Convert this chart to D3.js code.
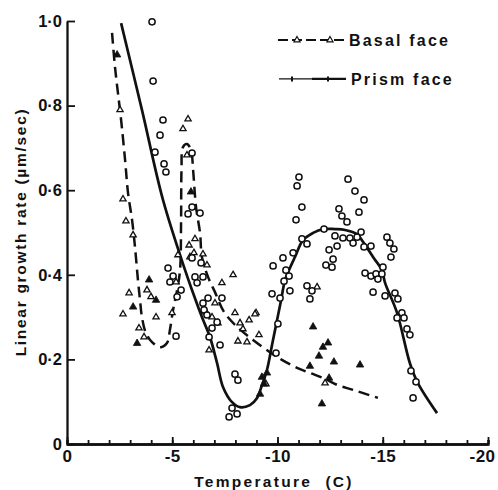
<!DOCTYPE html>
<html>
<head>
<meta charset="utf-8">
<script src="https://cdn.jsdelivr.net/npm/d3@7"></script>
<style>
  html, body { margin: 0; padding: 0; background: #fff; }
  svg { display: block; }
  text { font-family: "Liberation Sans", Arial, sans-serif; font-weight: bold; fill: #111; }
</style>
</head>
<body>
<script>
// ---------- data (temperature °C, growth rate µm/sec) ----------
const xTicks = [0, -5, -10, -15, -20];
const yTicks = [0, 0.2, 0.4, 0.6, 0.8, 1.0];
const seriesNames = ["Basal face", "Prism face"];
const xTitle = "Temperature  (C)";
const yTitle = "Linear growth rate (µm/sec)";

// prism face fitted curve
const prismCurve = [
  [-2.57,0.995],[-3.56,0.79],[-4.56,0.577],[-5.61,0.411],[-5.99,0.357],[-6.41,0.300],
  [-6.79,0.253],[-7.13,0.191],[-7.41,0.135],[-7.84,0.099],[-8.22,0.087],[-8.69,0.092],
  [-9.03,0.109],[-9.26,0.139],[-9.50,0.175],[-9.74,0.234],[-9.98,0.293],[-10.17,0.340],
  [-10.36,0.388],[-10.59,0.416],[-10.83,0.442],[-11.21,0.482],[-11.69,0.499],[-12.16,0.508],
  [-12.73,0.508],[-13.21,0.506],[-13.78,0.496],[-14.06,0.478],[-14.54,0.442],[-14.96,0.411],
  [-15.11,0.381],[-15.68,0.310],[-16.29,0.191],[-16.67,0.144],[-17.58,0.073]
];

// basal face fitted curve
const basalCurve = [
  [-2.14,0.972],[-2.28,0.891],[-2.42,0.830],[-2.57,0.766],[-2.76,0.671],[-2.90,0.593],
  [-3.09,0.530],[-3.23,0.466],[-3.37,0.388],[-3.47,0.340],[-3.56,0.300],[-3.75,0.262],
  [-4.04,0.241],[-4.42,0.229],[-4.75,0.239],[-4.89,0.270],[-5.04,0.317],[-5.23,0.364],
  [-5.37,0.411],[-5.42,0.530],[-5.44,0.648],[-5.51,0.702],[-5.70,0.709],[-5.89,0.695],
  [-5.99,0.648],[-6.13,0.560],[-6.32,0.499],[-6.41,0.442],[-6.70,0.395],[-7.03,0.359],
  [-7.46,0.312],[-8.08,0.277],[-8.84,0.246],[-9.64,0.217],[-10.21,0.199],[-10.93,0.180],
  [-11.54,0.168],[-12.26,0.154],[-12.87,0.139],[-13.59,0.128],[-14.77,0.109]
];

// prism face measurements (open circles)
const prismPoints = [
  [-4.04,0.998],[-4.09,0.858],[-4.56,0.766],[-4.42,0.730],[-4.18,0.690],[-4.61,0.662],
  [-4.70,0.643],[-5.94,0.688],[-5.94,0.560],[-5.75,0.544],[-6.32,0.546],[-6.37,0.428],
  [-5.94,0.440],[-4.80,0.416],[-5.04,0.397],[-4.89,0.383],[-5.42,0.364],[-5.23,0.348],
  [-5.18,0.255],[-6.08,0.395],[-6.46,0.395],[-6.18,0.381],[-6.46,0.333],[-6.70,0.345],
  [-7.36,0.345],[-6.51,0.317],[-6.65,0.305],[-7.13,0.288],[-6.89,0.274],[-6.75,0.253],
  [-7.27,0.234],[-7.98,0.165],[-8.12,0.151],[-7.84,0.085],[-8.08,0.071],[-7.70,0.064],
  [-9.74,0.355],[-10.12,0.345],[-10.02,0.284],[-9.93,0.215],
  [-11.02,0.631],[-10.93,0.610],[-11.16,0.560],[-10.88,0.530],[-13.35,0.626],[-13.68,0.598],
  [-14.11,0.577],[-13.87,0.548],[-12.92,0.556],[-13.06,0.539],[-13.30,0.525],[-12.21,0.508],
  [-11.16,0.485],[-11.40,0.473],[-12.73,0.492],[-13.11,0.487],[-13.44,0.487],[-13.78,0.489],
  [-13.97,0.501],[-13.59,0.475],[-12.83,0.468],[-12.45,0.459],[-14.11,0.466],[-14.44,0.468],
  [-10.74,0.452],[-10.26,0.440],[-9.79,0.421],[-12.64,0.437],[-12.30,0.423],[-12.59,0.418],
  [-10.40,0.411],[-10.55,0.397],[-10.31,0.385],[-10.59,0.362],[-11.40,0.374],[-11.64,0.362],
  [-11.54,0.343],[-15.20,0.489],[-15.34,0.475],[-15.53,0.461],[-15.39,0.442],[-15.01,0.418],
  [-14.16,0.404],[-14.44,0.397],[-14.68,0.402],[-14.96,0.402],[-14.77,0.390],[-14.54,0.359],
  [-15.11,0.350],[-15.58,0.357],[-15.72,0.343],[-15.91,0.310],[-15.68,0.298],[-16.01,0.298],
  [-16.15,0.272],[-16.29,0.258],[-16.34,0.173],[-16.58,0.147],[-16.44,0.109]
];

// basal face measurements (open triangles)
const basalOpen = [
  [-2.52,0.790],[-2.66,0.579],[-2.80,0.527],[-3.14,0.494],[-2.95,0.357],[-2.66,0.307],
  [-3.42,0.274],[-3.66,0.253],[-3.80,0.364],[-3.99,0.348],[-4.23,0.300],[-4.99,0.310],
  [-5.18,0.383],[-5.27,0.447],[-5.84,0.442],[-6.46,0.449],[-5.75,0.768],[-5.51,0.745],
  [-5.70,0.683],[-5.80,0.470],[-6.08,0.485],[-6.03,0.452],[-6.65,0.423],[-7.36,0.381],
  [-7.89,0.400],[-7.03,0.333],[-6.60,0.312],[-6.89,0.300],[-7.17,0.286],[-7.98,0.310],
  [-8.98,0.310],[-8.65,0.293],[-8.22,0.286],[-8.36,0.272],[-8.12,0.243],[-8.55,0.241],
  [-9.12,0.258],[-6.75,0.222],[-11.88,0.371],[-12.26,0.144],[-9.45,0.142],[-8.93,0.307]
];

// basal face measurements (filled triangles)
const basalFilled = [
  [-2.38,0.920],[-3.14,0.324],[-3.90,0.388],[-4.23,0.340],[-3.33,0.238],[-5.89,0.596],
  [-11.69,0.277],[-12.40,0.239],[-12.16,0.229],[-11.97,0.208],[-12.68,0.194],[-11.54,0.184],
  [-13.92,0.187],[-12.45,0.156],[-12.11,0.095],[-9.26,0.158],[-9.50,0.168],[-9.36,0.142],
  [-9.17,0.118]
];

// ---------- drawing ----------
const W = 498, H = 490;
const svg = d3.select("body").append("svg").attr("width", W).attr("height", H);

const x = d3.scaleLinear().domain([0, -20]).range([67, 488]);
const y = d3.scaleLinear().domain([0, 1.0]).range([444, 21]);
const ink = "#111";
const fmt = d => d === 0 ? "0" : d.toFixed(1).replace(".", "\u00B7");

// curves
const line = d3.line().x(d => x(d[0])).y(d => y(d[1])).curve(d3.curveCatmullRom.alpha(0.5));
svg.append("path").datum(basalCurve).attr("d", line)
  .attr("fill", "none").attr("stroke", ink).attr("stroke-width", 2.5)
  .attr("stroke-dasharray", "11,6");
svg.append("path").datum(prismCurve).attr("d", line)
  .attr("fill", "none").attr("stroke", ink).attr("stroke-width", 2.7);

// points
const tri = d3.symbol().type(d3.symbolTriangle);
svg.append("g").selectAll("path").data(basalOpen).join("path")
  .attr("d", tri.size(17)())
  .attr("transform", d => `translate(${x(d[0])},${y(d[1])})`)
  .attr("fill", "#fff").attr("stroke", ink).attr("stroke-width", 1.3);
svg.append("g").selectAll("path").data(basalFilled).join("path")
  .attr("d", d3.symbol().type(d3.symbolTriangle).size(24)())
  .attr("transform", d => `translate(${x(d[0])},${y(d[1])})`)
  .attr("fill", ink).attr("stroke", ink).attr("stroke-width", 0.8);
svg.append("g").selectAll("circle").data(prismPoints).join("circle")
  .attr("cx", d => x(d[0])).attr("cy", d => y(d[1])).attr("r", 3.1)
  .attr("fill", "#fff").attr("stroke", ink).attr("stroke-width", 1.5);

// axes
const xMinor = svg.append("g").attr("transform", `translate(0,${y(0)})`)
  .call(d3.axisBottom(x).tickValues(d3.range(0, -21, -1)).tickSize(-4).tickFormat(""));
const xAxis = svg.append("g").attr("transform", `translate(0,${y(0)})`)
  .call(d3.axisBottom(x).tickValues(xTicks).tickSize(-7).tickPadding(6).tickSizeOuter(0)
    .tickFormat(d => d === 0 ? "0" : "-" + Math.abs(d)));
const yAxis = svg.append("g").attr("transform", `translate(${x(0)},0)`)
  .call(d3.axisLeft(y).tickValues(yTicks).tickSize(-8).tickPadding(5).tickSizeOuter(0).tickFormat(fmt));

[xMinor, xAxis, yAxis].forEach(g => {
  g.selectAll("line").attr("stroke", ink).attr("stroke-width", 1.8);
  g.select(".domain").attr("stroke", ink).attr("stroke-width", 2.3);
});
xAxis.selectAll("text").attr("font-size", 17).attr("fill", ink).style("letter-spacing", "0.5px");
yAxis.selectAll("text").attr("font-size", 16.5).attr("fill", ink);
xAxis.selectAll(".tick text").filter(d => d === -20).attr("dx", -6);

// axis titles
svg.append("text").attr("x", 274).attr("y", 487).attr("text-anchor", "middle")
  .attr("font-size", 15.5).style("letter-spacing", "2.3px").style("white-space", "pre").text(xTitle);
svg.append("text").attr("transform", "translate(26,232) rotate(-90)").attr("text-anchor", "middle")
  .attr("font-size", 15.5).style("letter-spacing", "1.7px").text(yTitle);

// legend
const lg = svg.append("g");
lg.append("line").attr("x1", 278).attr("x2", 347).attr("y1", y(0.955)).attr("y2", y(0.955))
  .attr("stroke", ink).attr("stroke-width", 2).attr("stroke-dasharray", "10,4");
[297, 330].forEach(px => lg.append("path").attr("d", tri.size(16)())
  .attr("transform", `translate(${px},${y(0.955)})`).attr("fill", "#fff").attr("stroke", ink).attr("stroke-width", 1.2));
lg.append("text").attr("x", 349).attr("y", y(0.955) + 6).attr("font-size", 16)
  .style("letter-spacing", "2.2px").text(seriesNames[0]);

const ly = y(0.863);
lg.append("line").attr("x1", 279).attr("x2", 312).attr("y1", ly).attr("y2", ly)
  .attr("stroke", ink).attr("stroke-width", 1.2);
lg.append("line").attr("x1", 312).attr("x2", 346).attr("y1", ly).attr("y2", ly)
  .attr("stroke", ink).attr("stroke-width", 2.2);
[292, 328].forEach(px => lg.append("line").attr("x1", px).attr("x2", px).attr("y1", ly - 2.5).attr("y2", ly + 2.5)
  .attr("stroke", ink).attr("stroke-width", 2));
lg.append("text").attr("x", 351).attr("y", ly + 6).attr("font-size", 16)
  .style("letter-spacing", "2.2px").text(seriesNames[1]);
</script>
</body>
</html>
